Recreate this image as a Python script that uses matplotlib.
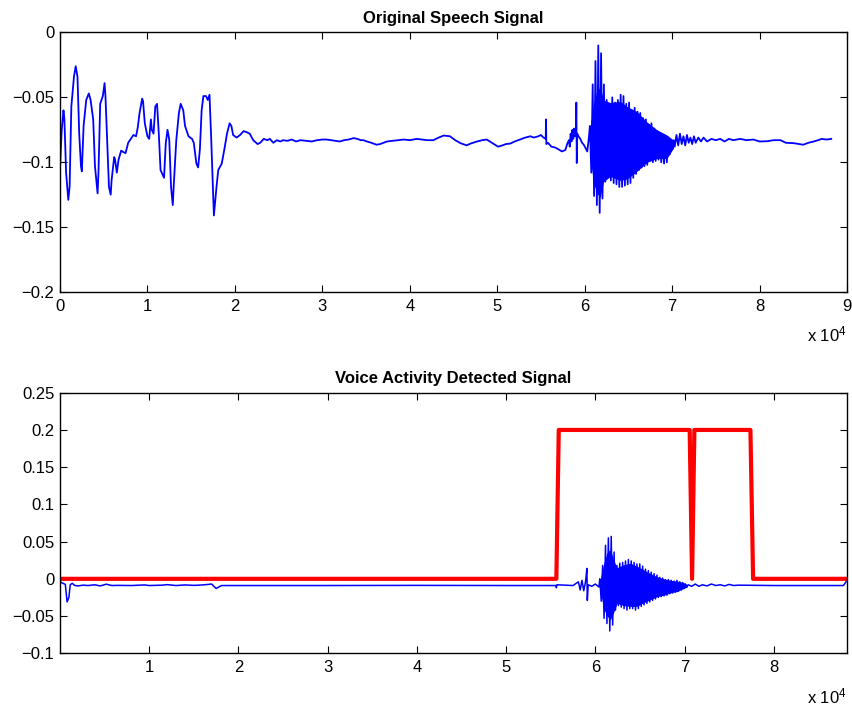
import numpy as np
import matplotlib
matplotlib.use('Agg')
import matplotlib.pyplot as plt

plt.rcParams['font.family'] = ['Liberation Sans', 'DejaVu Sans']
plt.rcParams['mathtext.default'] = 'regular'

# Original speech signal, x in units of 1e4 samples
speech_x = [0.00, 0.02, 0.03, 0.04, 0.05, 0.07, 0.095, 0.11, 0.13, 0.16, 0.18, 0.20, 0.22, 0.24, 0.25,
            0.27, 0.30, 0.33, 0.35, 0.38, 0.40, 0.43, 0.44, 0.46, 0.49, 0.51, 0.52, 0.54, 0.56, 0.58,
            0.59, 0.62, 0.63, 0.65, 0.67, 0.70, 0.72, 0.75, 0.78, 0.81, 0.84, 0.87, 0.89, 0.91, 0.94,
            0.95, 0.97, 1.00, 1.02, 1.04, 1.05, 1.07, 1.09, 1.11, 1.13, 1.15, 1.19, 1.21, 1.23, 1.25,
            1.27, 1.29, 1.30, 1.33, 1.36, 1.38, 1.41, 1.43, 1.47, 1.51, 1.53, 1.56, 1.58, 1.60, 1.62,
            1.64, 1.67, 1.69, 1.71, 1.73, 1.75, 1.76, 1.79, 1.81, 1.85, 1.88, 1.91, 1.94, 1.96, 1.98,
            2.02, 2.06, 2.10, 2.14, 2.17, 2.21, 2.26, 2.29, 2.33, 2.37, 2.40, 2.44, 2.48, 2.52, 2.55,
            2.60, 2.65, 2.70, 2.75, 2.82, 2.88, 2.94, 3.00, 3.05, 3.10, 3.15, 3.20, 3.25, 3.30, 3.36,
            3.40, 3.44, 3.47, 3.51, 3.56, 3.62, 3.66, 3.70, 3.74, 3.80, 3.86, 3.93, 4.00, 4.08, 4.14,
            4.20, 4.27, 4.33, 4.39, 4.46, 4.52, 4.58, 4.65, 4.70, 4.77, 4.83, 4.88, 4.94, 5.01, 5.06,
            5.10, 5.15, 5.20, 5.26, 5.32, 5.38, 5.42, 5.47, 5.50, 5.53, 5.555, 5.558, 5.562, 5.58, 5.62,
            5.66, 5.70, 5.74, 5.78, 5.80, 5.82, 5.83, 5.84, 5.85, 5.86, 5.87, 5.88, 5.89, 5.90, 5.905,
            5.91, 5.915, 5.93, 5.95, 5.97, 5.99, 6.01, 6.03, 6.05]
speech_y = [-0.105, -0.075, -0.067, -0.060, -0.066, -0.108, -0.129, -0.119, -0.057, -0.034, -0.026, -0.034, -0.078, -0.103, -0.107,
            -0.072, -0.052, -0.047, -0.052, -0.067, -0.103, -0.124, -0.108, -0.055, -0.049, -0.039, -0.049, -0.083, -0.119, -0.125,
            -0.114, -0.096, -0.098, -0.108, -0.098, -0.091, -0.092, -0.093, -0.085, -0.082, -0.079, -0.080, -0.073, -0.062, -0.051,
            -0.053, -0.070, -0.080, -0.082, -0.067, -0.075, -0.078, -0.057, -0.055, -0.078, -0.106, -0.112, -0.085, -0.075, -0.083,
            -0.119, -0.133, -0.119, -0.083, -0.062, -0.055, -0.060, -0.072, -0.080, -0.082, -0.085, -0.101, -0.104, -0.090, -0.060,
            -0.049, -0.049, -0.052, -0.048, -0.083, -0.121, -0.141, -0.119, -0.106, -0.101, -0.090, -0.078, -0.070, -0.072, -0.079,
            -0.081, -0.079, -0.076, -0.077, -0.078, -0.083, -0.086, -0.085, -0.082, -0.083, -0.082, -0.085, -0.083, -0.084, -0.083,
            -0.0835, -0.0825, -0.084, -0.083, -0.0835, -0.084, -0.083, -0.0825, -0.0825, -0.083, -0.0835, -0.084, -0.083, -0.0825, -0.0814,
            -0.082, -0.083, -0.083, -0.084, -0.085, -0.0865, -0.086, -0.085, -0.084, -0.0835, -0.083, -0.0825, -0.083, -0.082, -0.0825,
            -0.083, -0.083, -0.081, -0.0794, -0.080, -0.083, -0.0853, -0.087, -0.0855, -0.084, -0.083, -0.0825, -0.085, -0.088, -0.087,
            -0.086, -0.0856, -0.084, -0.0825, -0.081, -0.080, -0.081, -0.080, -0.079, -0.081, -0.082, -0.067, -0.086, -0.085, -0.088,
            -0.0886, -0.090, -0.0917, -0.0905, -0.086, -0.083, -0.088, -0.078, -0.084, -0.075, -0.082, -0.074, -0.080, -0.076, -0.054,
            -0.1006, -0.078, -0.080, -0.082, -0.085, -0.0865, -0.089, -0.0917, -0.080]

# burst: alternating peak / trough of the vowel
burst_x = [6.060, 6.076, 6.092, 6.108, 6.124, 6.140, 6.156, 6.172, 6.188, 6.204, 6.220, 6.236, 6.252, 6.268, 6.284,
           6.300, 6.316, 6.332, 6.348, 6.364, 6.380, 6.396, 6.412, 6.428, 6.444, 6.460, 6.476, 6.492, 6.508, 6.524,
           6.540, 6.556, 6.572, 6.588, 6.604, 6.620, 6.636, 6.652, 6.668, 6.684, 6.700, 6.716, 6.732, 6.748, 6.764,
           6.780, 6.796, 6.812, 6.828, 6.844, 6.860, 6.876, 6.892, 6.908, 6.924, 6.940, 6.956, 6.972, 6.988, 7.004, 7.020]
burst_y = [-0.072, -0.108, -0.040, -0.126, -0.022, -0.133, -0.010, -0.139, -0.016, -0.128, -0.040, -0.115, -0.052, -0.111, -0.056,
           -0.114, -0.050, -0.116, -0.054, -0.117, -0.052, -0.119, -0.048, -0.119, -0.049, -0.118, -0.055, -0.117, -0.054, -0.116,
           -0.060, -0.112, -0.058, -0.109, -0.061, -0.106, -0.062, -0.104, -0.066, -0.103, -0.067, -0.102, -0.071, -0.099, -0.070,
           -0.100, -0.074, -0.099, -0.076, -0.098, -0.078, -0.100, -0.079, -0.101, -0.080, -0.100, -0.081, -0.094, -0.083, -0.090, -0.083]
# solid core of the burst (where the cycles overlap)
core_x = [6.064, 6.102, 6.140, 6.178, 6.216, 6.293, 6.407, 6.484, 6.598, 6.713, 6.827, 6.941, 7.017]
core_hi = [-0.072, -0.055, -0.045, -0.042, -0.052, -0.054, -0.053, -0.057, -0.061, -0.069, -0.075, -0.079, -0.083]
core_lo = [-0.097, -0.116, -0.124, -0.127, -0.115, -0.111, -0.114, -0.113, -0.107, -0.100, -0.097, -0.097, -0.089]

tail_x = [7.03, 7.05, 7.07, 7.09, 7.11, 7.13, 7.15, 7.17, 7.19, 7.21, 7.23, 7.25, 7.27, 7.30, 7.33, 7.36, 7.40, 7.45,
          7.50, 7.55, 7.60, 7.65, 7.70, 7.78, 7.85, 7.93, 8.00, 8.09, 8.16, 8.24, 8.30, 8.39, 8.45, 8.50, 8.56, 8.62,
          8.67, 8.71, 8.77, 8.82]
tail_y = [-0.088, -0.079, -0.087, -0.078, -0.086, -0.080, -0.087, -0.079, -0.085, -0.081, -0.086, -0.080, -0.085, -0.081,
          -0.084, -0.081, -0.084, -0.082, -0.083, -0.082, -0.084, -0.082, -0.083, -0.082, -0.083, -0.0825, -0.084, -0.0838,
          -0.083, -0.083, -0.085, -0.0853, -0.086, -0.0865, -0.085, -0.084, -0.083, -0.082, -0.0825, -0.082]

# filtered signal shown under the VAD curve
filt_x = [0.00, 0.015, 0.06, 0.08, 0.10, 0.115, 0.137, 0.167, 0.204, 0.26, 0.316, 0.39, 0.45, 0.52, 0.58, 0.65, 0.80,
          0.95, 1.00, 1.15, 1.20, 1.30, 1.40, 1.50, 1.60, 1.70, 1.75, 1.81, 2.20, 3.00, 4.00, 5.00, 5.56, 5.563,
          5.57, 5.75, 5.81, 5.83, 5.85, 5.87, 5.89, 5.905, 5.91, 5.92, 5.96, 6.00, 6.04]
filt_y = [-0.003, -0.005, -0.0075, -0.031, -0.025, -0.008, -0.006, -0.009, -0.0095, -0.0085, -0.009, -0.008, -0.0095,
          -0.0072, -0.009, -0.0088, -0.009, -0.0082, -0.009, -0.0085, -0.0078, -0.009, -0.0082, -0.0088, -0.0082, -0.007,
          -0.013, -0.009, -0.009, -0.009, -0.0088, -0.009, -0.009, -0.012, -0.008, -0.009, -0.004, -0.015, -0.002, -0.016,
          -0.004, 0.014, -0.029, -0.008, -0.010, -0.007, -0.011]
fburst_x = [6.050, 6.066, 6.082, 6.098, 6.114, 6.130, 6.146, 6.162, 6.178, 6.194, 6.210, 6.226, 6.242, 6.258, 6.274,
            6.290, 6.306, 6.322, 6.338, 6.354, 6.370, 6.386, 6.402, 6.418, 6.434, 6.450, 6.466, 6.482, 6.498, 6.514,
            6.530, 6.546, 6.562, 6.578, 6.594, 6.610, 6.626, 6.642, 6.658, 6.674, 6.690, 6.706, 6.722, 6.738, 6.754,
            6.770, 6.786, 6.802, 6.818, 6.834, 6.850, 6.866, 6.882, 6.898, 6.914, 6.930, 6.946, 6.962, 6.978, 6.994,
            7.010, 7.026]
fburst_y = [0.000, -0.030, 0.018, -0.053, 0.045, -0.060, 0.055, -0.070, 0.057, -0.062, 0.036, -0.042, 0.018, -0.036, 0.021,
            -0.038, 0.022, -0.040, 0.024, -0.042, 0.026, -0.040, 0.024, -0.040, 0.022, -0.042, 0.020, -0.040, 0.020, -0.037,
            0.017, -0.035, 0.013, -0.033, 0.011, -0.031, 0.009, -0.029, 0.007, -0.027, 0.005, -0.025, 0.002, -0.024, 0.001,
            -0.023, -0.001, -0.022, -0.001, -0.020, -0.002, -0.019, -0.003, -0.018, -0.002, -0.017, -0.004, -0.015, -0.005,
            -0.013, -0.007, -0.011]
fcore_x = [6.056, 6.093, 6.131, 6.168, 6.206, 6.243, 6.318, 6.392, 6.467, 6.542, 6.617, 6.691, 6.766, 6.841, 6.915, 6.990, 7.028]
fcore_hi = [0.0, 0.020, 0.035, 0.040, 0.025, 0.015, 0.019, 0.021, 0.017, 0.012, 0.007, 0.003, 0.000, -0.002, -0.003, -0.005, -0.008]
fcore_lo = [-0.017, -0.040, -0.050, -0.055, -0.045, -0.033, -0.036, -0.037, -0.037, -0.032, -0.028, -0.024, -0.022, -0.019,
            -0.017, -0.013, -0.011]
ftail_x = [7.04, 7.08, 7.12, 7.16, 7.20, 7.25, 7.30, 7.35, 7.40, 7.45, 7.50, 7.55, 7.60, 8.00, 8.50, 8.78, 8.81, 8.82]
ftail_y = [-0.008, -0.010, -0.007, -0.010, -0.008, -0.0095, -0.007, -0.009, -0.008, -0.0095, -0.0075, -0.009, -0.0085,
           -0.009, -0.009, -0.009, -0.004, -0.002]

# voice activity decision
vad_x = [0.00, 5.563, 5.590, 7.057, 7.084, 7.110, 7.738, 7.768, 8.82]
vad_y = [0, 0, 0.2, 0.2, 0, 0.2, 0.2, 0, 0]

n_samples = 88200


def style_axes(ax):
    ax.tick_params(direction='in', top=True, right=True, length=5, width=0.8,
                   labelsize=12, colors='black')
    ax.tick_params(axis='y', pad=4)
    ax.tick_params(axis='x', pad=5)
    for s in ax.spines.values():
        s.set_linewidth(1.0)
        s.set_color('black')
    ax.text(1.0, -0.192, 'x 10$^{4}$', transform=ax.transAxes, ha='right',
            va='baseline', fontsize=12)


fig = plt.figure(figsize=(8.52, 7.08), dpi=100)
ax1 = fig.add_axes([0.0704, 0.5876, 0.9237, 0.3665])
ax2 = fig.add_axes([0.0704, 0.0773, 0.9237, 0.368])

# top: original speech
sx = np.array(speech_x + burst_x + tail_x) * 1e4
sy = np.array(speech_y + burst_y + tail_y)
ax1.fill_between(np.array(core_x) * 1e4, core_lo, core_hi, color='blue', linewidth=0)
ax1.plot(sx, sy, color='blue', linewidth=1.3)
ax1.set_xlim(0, 90000)
ax1.set_ylim(-0.2, 0)
ax1.set_xticks(np.arange(0, 10) * 1e4)
ax1.set_xticklabels([str(i) for i in range(10)])
ax1.set_yticks([-0.2, -0.15, -0.1, -0.05, 0])
ax1.set_yticklabels(['\u22120.2', '\u22120.15', '\u22120.1', '\u22120.05', '0'])
ax1.set_title('Original Speech Signal', fontsize=12, fontweight='bold', pad=7)
style_axes(ax1)

# bottom: voice activity detected
fx = np.array(filt_x + fburst_x + ftail_x) * 1e4
fy = np.array(filt_y + fburst_y + ftail_y)
ax2.fill_between(np.array(fcore_x) * 1e4, fcore_lo, fcore_hi, color='blue', linewidth=0)
ax2.plot(fx, fy, color='blue', linewidth=1.1)
ax2.plot(np.array(vad_x) * 1e4, vad_y, color='red', linewidth=3)
ax2.set_xlim(1, n_samples)
ax2.set_ylim(-0.1, 0.25)
ax2.set_xticks(np.arange(1, 9) * 1e4)
ax2.set_xticklabels([str(i) for i in range(1, 9)])
yt = [-0.1, -0.05, 0, 0.05, 0.1, 0.15, 0.2, 0.25]
ax2.set_yticks(yt)
ax2.set_yticklabels(['\u22120.1', '\u22120.05', '0', '0.05', '0.1', '0.15', '0.2', '0.25'])
ax2.set_title('Voice Activity Detected Signal', fontsize=12, fontweight='bold', pad=7)
style_axes(ax2)

fig.savefig('out.png', dpi=100)
